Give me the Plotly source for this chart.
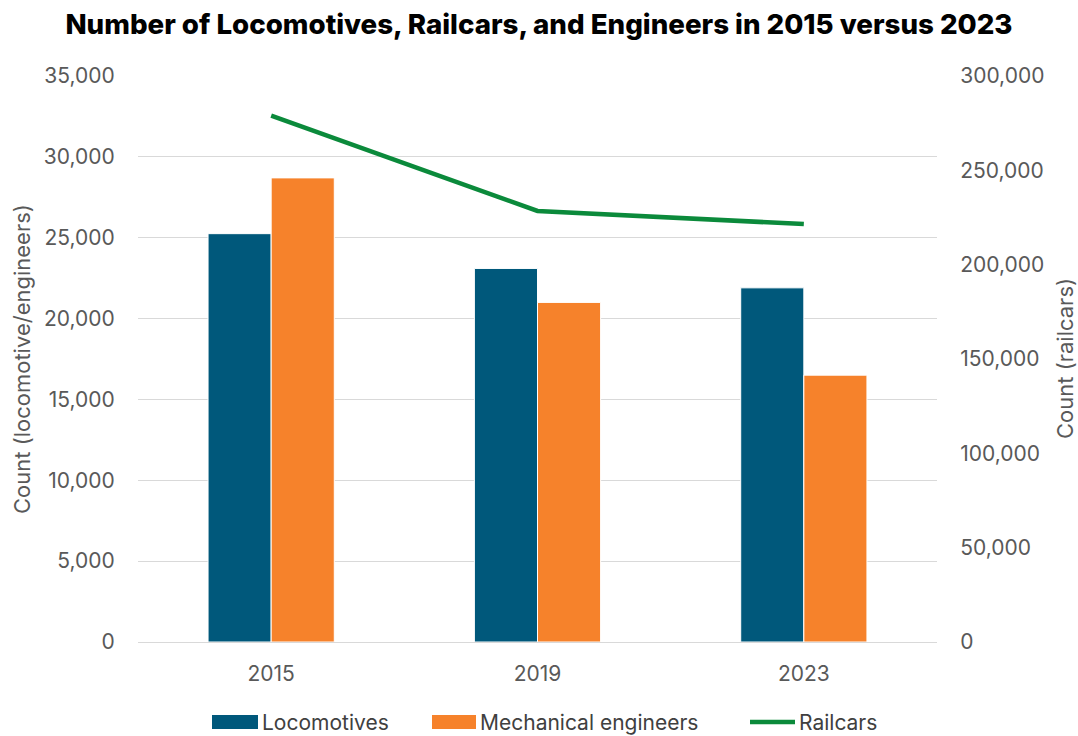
import plotly.graph_objects as go

years = ["2015", "2019", "2023"]
locomotives = [25250, 23100, 21900]
mech_engineers = [28700, 21000, 16500]
railcars = [279000, 228500, 221500]

left_ticks = [0, 5000, 10000, 15000, 20000, 25000, 30000, 35000]
right_ticks = [0, 50000, 100000, 150000, 200000, 250000, 300000]

loco_color = "#00587B"
mech_color = "#F6822B"
rail_color = "#0B8A3B"

# plot area in pixels
PX0, PX1, PY0, PY1 = 138, 937, 76, 642


def px(x):
    return (x - PX0) / (PX1 - PX0)


def py(y):
    return (PY1 - y) / (PY1 - PY0)


fig = go.Figure()

fig.add_trace(go.Bar(x=years, y=locomotives, name="Locomotives",
                     marker=dict(color=loco_color, line=dict(color="white", width=1))))
fig.add_trace(go.Bar(x=years, y=mech_engineers, name="Mechanical engineers",
                     marker=dict(color=mech_color, line=dict(color="white", width=1))))
fig.add_trace(go.Scatter(x=years, y=railcars, name="Railcars", yaxis="y2",
                         mode="lines", line=dict(color=rail_color, width=4.5)))

tick_font = dict(family="Inter, Open Sans, sans-serif", size=21, color="#595959")
title_font = dict(family="Inter, Open Sans, sans-serif", size=22, color="#595959")
legend_font = dict(family="Inter, Open Sans, sans-serif", size=21, color="#404040")
no_tick = dict(ticks="outside", tickcolor="rgba(0,0,0,0)", automargin=False)

fig.update_layout(
    width=1078, height=736,
    margin=dict(l=PX0, r=1078 - PX1, t=PY0, b=736 - PY1),
    paper_bgcolor="white", plot_bgcolor="white",
    title=dict(text="Number of Locomotives, Railcars, and Engineers in 2015 versus 2023",
               x=0.5, xanchor="center", y=1 - 24 / 736, yanchor="middle",
               font=dict(family="Inter, Noto Sans, sans-serif", size=27.7, color="black",
                         weight=800)),
    barmode="group", bargap=0.526, bargroupgap=0,
    showlegend=False,
    xaxis=dict(showgrid=False, showline=True, linecolor="#d9d9d9", linewidth=1,
               tickfont=tick_font, ticklen=13, **no_tick),
    yaxis=dict(range=[0, 35000], tickvals=left_ticks, tickformat=",",
               showgrid=True, gridcolor="#d9d9d9", gridwidth=1, zeroline=False,
               tickfont=tick_font, ticklen=18, **no_tick),
    yaxis2=dict(range=[0, 300000], tickvals=right_ticks, tickformat=",",
                overlaying="y", side="right", showgrid=False, zeroline=False,
                tickfont=tick_font, ticklen=18, **no_tick),
)

# axis titles
fig.add_annotation(text="Count (locomotive/engineers)", xref="paper", yref="paper",
                   x=px(22), y=0.5, textangle=-90, showarrow=False, font=title_font,
                   xanchor="center", yanchor="middle")
fig.add_annotation(text="Count (railcars)", xref="paper", yref="paper",
                   x=px(1065), y=0.5, textangle=-90, showarrow=False, font=title_font,
                   xanchor="center", yanchor="middle")

# legend drawn by hand for the wide swatches
ly = 722
fig.add_shape(type="rect", xref="paper", yref="paper", x0=px(212), x1=px(258),
              y0=py(729), y1=py(715), fillcolor=loco_color, line_width=0)
fig.add_shape(type="rect", xref="paper", yref="paper", x0=px(432), x1=px(476),
              y0=py(729), y1=py(715), fillcolor=mech_color, line_width=0)
fig.add_shape(type="line", xref="paper", yref="paper", x0=px(750), x1=px(795),
              y0=py(ly), y1=py(ly), line=dict(color=rail_color, width=4.5))
for label, x in [("Locomotives", 260), ("Mechanical engineers", 478), ("Railcars", 797)]:
    fig.add_annotation(text=label, xref="paper", yref="paper", x=px(x), y=py(ly),
                       showarrow=False, xanchor="left", yanchor="middle",
                       font=legend_font)

# drop the default body margin so the 1078x736 figure fills the window
fig.write_html("out.html", config={"displayModeBar": False},
               post_script="document.body.style.margin='0';")
